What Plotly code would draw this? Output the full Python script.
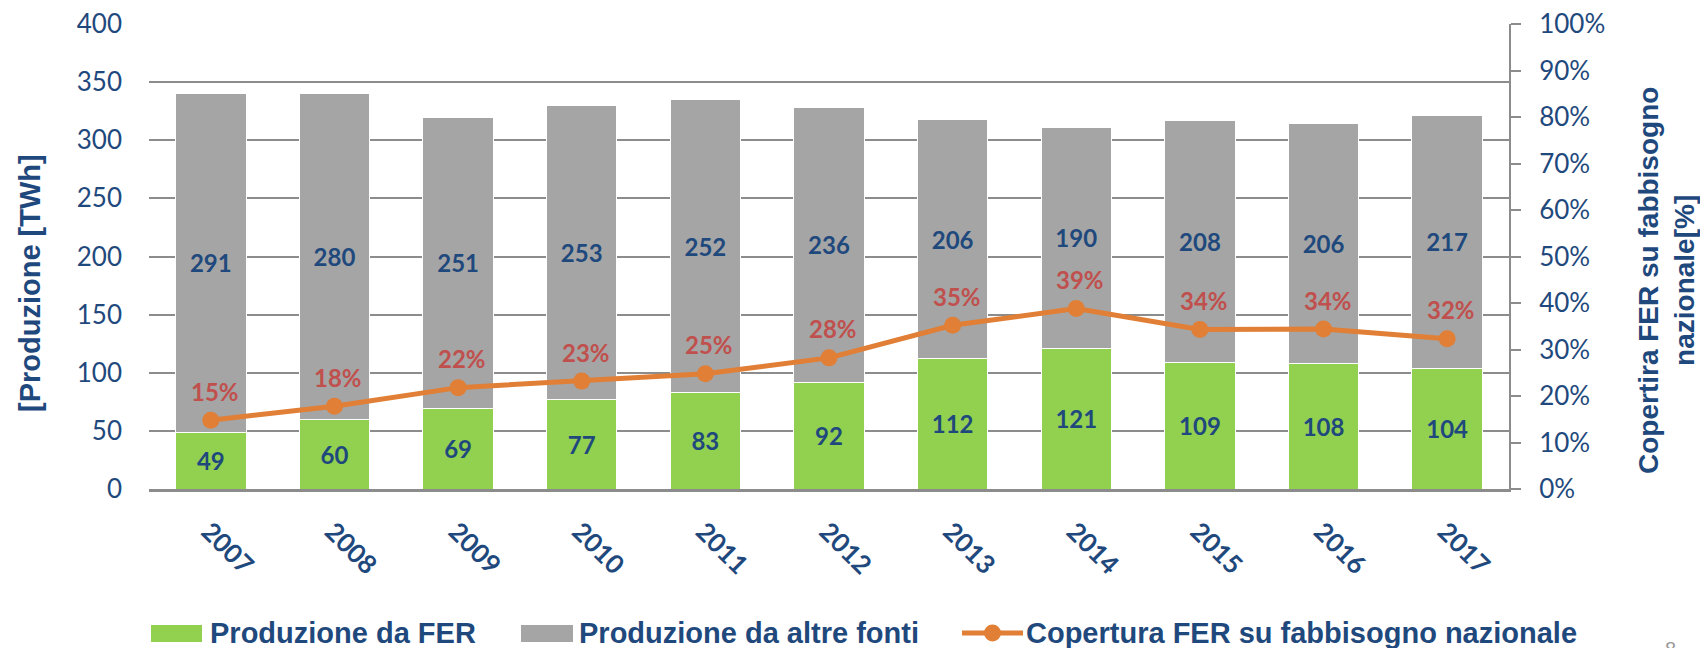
import plotly.graph_objects as go

years = ["2007", "2008", "2009", "2010", "2011", "2012", "2013", "2014", "2015", "2016", "2017"]
prod_fer = [49, 60, 69, 77, 83, 92, 112, 121, 109, 108, 104]
prod_altre = [291, 280, 251, 253, 252, 236, 206, 190, 208, 206, 217]
copertura = [0.148, 0.178, 0.218, 0.232, 0.248, 0.282, 0.352, 0.388, 0.343, 0.344, 0.323]
y_ticks = [0, 50, 100, 150, 200, 250, 300, 350, 400]
y2_ticks = [0, 0.1, 0.2, 0.3, 0.4, 0.5, 0.6, 0.7, 0.8, 0.9, 1.0]
series_names = ["Produzione da FER", "Produzione da altre fonti",
                "Copertura FER su fabbisogno nazionale"]

BLUE = "#1F497D"
RED = "#C0504D"
GREEN = "#92D050"
GREY = "#A5A5A5"
ORANGE = "#E07F35"
GRID = "#8C8C8C"
NUM_FONT = "Lato, Carlito, Calibri, sans-serif"
TITLE_FONT = "Liberation Sans, Arial, sans-serif"

W, H = 1700, 648
L, R, T, B = 149, 1509, 24, 489


def px(xp):
    return (xp - L) / (R - L)


def py(yp):
    return (B - yp) / (B - T)


fig = go.Figure()
fig.add_trace(go.Bar(
    x=years, y=prod_fer, name=series_names[0], showlegend=False,
    marker=dict(color=GREEN, line=dict(color="white", width=1)),
    text=prod_fer, textposition="inside", insidetextanchor="middle",
    textfont=dict(family=NUM_FONT, size=24, color=BLUE, weight="bold"),
    constraintext="none",
))
fig.add_trace(go.Bar(
    x=years, y=prod_altre, name=series_names[1], showlegend=False,
    marker=dict(color=GREY, line=dict(color="white", width=1)),
    text=prod_altre, textposition="inside", insidetextanchor="middle",
    textfont=dict(family=NUM_FONT, size=24, color=BLUE, weight="bold"),
    constraintext="none",
))
fig.add_trace(go.Scatter(
    x=years, y=copertura, name=series_names[2], showlegend=False,
    yaxis="y2", mode="lines+markers",
    line=dict(color=ORANGE, width=5),
    marker=dict(color=ORANGE, size=17),
))

for i, v in enumerate(copertura):
    fig.add_annotation(
        x=i, y=v, xref="x", yref="y2", text=f"{round(v * 100)}%",
        showarrow=False, xshift=4, yshift=29,
        font=dict(family=NUM_FONT, size=24, color=RED, weight="bold"),
    )

# axis titles
fig.add_annotation(
    x=px(30), y=py(283), xref="paper", yref="paper", text="[Produzione [TWh]",
    textangle=-90, showarrow=False, xanchor="center", yanchor="middle",
    font=dict(family=TITLE_FONT, size=29, color=BLUE, weight="bold"),
)
fig.add_annotation(
    x=px(1666), y=py(281), xref="paper", yref="paper",
    text="Copertira FER su fabbisogno<br>nazionale[%]",
    textangle=-90, showarrow=False, xanchor="center", yanchor="middle", align="center",
    font=dict(family=TITLE_FONT, size=28, color=BLUE, weight="bold"),
)
# page number (partly cut by the bottom edge, as in the original slide)
fig.add_annotation(
    x=px(1670), y=py(636), xref="paper", yref="paper",
    text="8", showarrow=False, xanchor="center", yanchor="top",
    font=dict(family=TITLE_FONT, size=20, color="#9A9A9A"),
)

# legend (drawn to match the wide swatches of the original)
leg_y = 633
leg_font = dict(family=TITLE_FONT, size=29, color=BLUE, weight="bold")
shapes = [
    dict(type="rect", xref="paper", yref="paper", x0=px(151), x1=px(202),
         y0=py(625), y1=py(642), fillcolor=GREEN, line=dict(width=0)),
    dict(type="rect", xref="paper", yref="paper", x0=px(521), x1=px(573),
         y0=py(625), y1=py(642), fillcolor=GREY, line=dict(width=0)),
    dict(type="line", xref="paper", yref="paper", x0=px(962), x1=px(1023),
         y0=py(leg_y), y1=py(leg_y), line=dict(color=ORANGE, width=5)),
    dict(type="circle", xref="paper", yref="paper", x0=px(984), x1=px(1001),
         y0=py(624.5), y1=py(641.5), fillcolor=ORANGE, line=dict(width=0)),
]
for name, xs in zip(series_names, [208, 577, 1024]):
    fig.add_annotation(
        x=px(xs), y=py(leg_y), xref="paper", yref="paper", text=name,
        showarrow=False, xanchor="left", yanchor="middle", font=leg_font,
    )

fig.update_layout(
    width=W, height=H,
    margin=dict(l=L, r=W - R, t=T, b=H - B, autoexpand=False),
    paper_bgcolor="white", plot_bgcolor="white",
    barmode="stack", bargap=0.43,
    showlegend=False,
    shapes=shapes,
    xaxis=dict(
        type="category", range=[-0.5, 10.5], tickangle=45, automargin=False,
        tickfont=dict(family=NUM_FONT, size=26, color=BLUE, weight="bold"),
        showline=True, linecolor=GRID, linewidth=3,
        ticks="", ticklabelstandoff=14, ticklabelshift=-2,
    ),
    yaxis=dict(
        range=[0, 400], tickvals=y_ticks, automargin=False,
        tickfont=dict(family=NUM_FONT, size=26, color=BLUE),
        showgrid=True, gridcolor=GRID, gridwidth=2,
        zeroline=False, showline=False, ticks="",
        ticklabelstandoff=26,
    ),
    yaxis2=dict(
        overlaying="y", side="right", range=[0, 1], tickvals=y2_ticks,
        tickformat=".0%", automargin=False,
        tickfont=dict(family=NUM_FONT, size=26, color=BLUE),
        showgrid=False, zeroline=False,
        showline=True, linecolor=GRID, linewidth=2,
        ticks="outside", ticklen=10, tickcolor=GRID, tickwidth=2,
        ticklabelstandoff=13,
    ),
)

fig.write_html("out.html", config={"displayModeBar": False},
               post_script="document.body.style.margin='0';")
